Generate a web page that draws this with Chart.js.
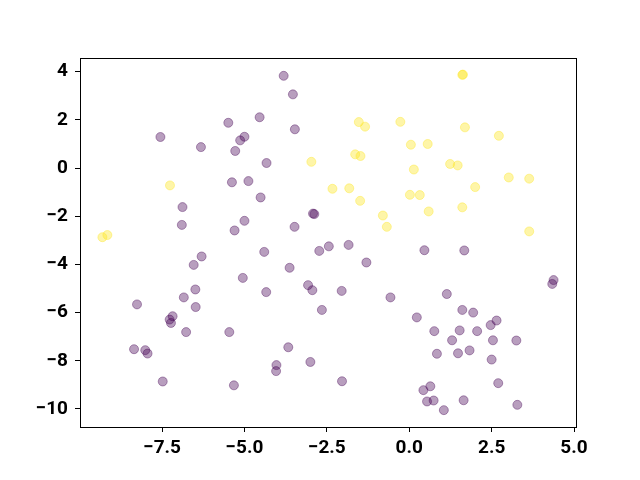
<!DOCTYPE html>
<html>
<head>
<meta charset="utf-8">
<script src="https://cdn.jsdelivr.net/npm/chart.js@4.4.1/dist/chart.umd.min.js"></script>
<style>
  body { margin: 0; background: #fff; }
  canvas { display: block; }
</style>
</head>
<body>
<canvas id="scatter_chart" width="640" height="480"></canvas>
<script>
// class 0 (purple) points
const purple_x = [-5.49, -7.55, -5.00, -5.13, -6.32, -5.28, -5.38, -4.88, -6.88, -6.90, -5.00, -5.30,
    -3.81, -3.53, -4.54, -3.47, -4.33, -4.51, -2.92, -2.88, -3.48,
    -6.30, -6.54, -5.05, -6.49, -6.84, -8.26, -6.48, -7.18, -7.27, -7.23, -6.77, -5.46,
    -8.35, -8.01, -7.94, -7.48, -5.32,
    -4.40, -2.73, -2.44, -1.84, -1.30, -3.63, -4.34, -3.07, -2.94, -2.05, -0.57, -2.65,
    -3.67, -4.03, -4.04, -3.00, -2.04,
    0.46, 1.67, 4.38, 4.34, 1.14, 1.61, 1.94, 0.23, 2.47, 2.65, 0.76, 1.53, 2.06,
    1.30, 2.54, 3.25, 0.84, 1.48, 1.83, 2.50, 2.70, 0.64, 0.43, 0.54, 0.74, 1.65, 3.28, 1.05];
const purple_y = [1.88, 1.29, 1.30, 1.15, 0.87, 0.71, -0.59, -0.54, -1.62, -2.36, -2.19, -2.59,
    3.83, 3.06, 2.11, 1.61, 0.21, -1.22, -1.89, -1.91, -2.44,
    -3.67, -4.02, -4.56, -5.04, -5.37, -5.66, -5.77, -6.15, -6.29, -6.43, -6.81, -6.81,
    -7.52, -7.56, -7.70, -8.86, -9.02,
    -3.48, -3.44, -3.25, -3.19, -3.92, -4.14, -5.15, -4.86, -5.07, -5.10, -5.37, -5.89,
    -7.44, -8.18, -8.43, -8.05, -8.85,
    -3.41, -3.42, -4.65, -4.81, -5.23, -5.89, -6.00, -6.20, -6.52, -6.33, -6.77, -6.74, -6.77,
    -7.15, -7.15, -7.16, -7.71, -7.69, -7.57, -7.95, -8.93, -9.06, -9.22, -9.69, -9.65, -9.64, -9.83, -10.05];

// class 1 (yellow) points
const yellow_x = [-7.26, -9.31, -9.16, -1.53, -1.34, -0.27, 0.05, 0.14, -2.97, -1.64, -1.48,
    -2.33, -1.82, -1.49, 0.02, -0.80, -0.68, 1.61, 1.63, 1.69, 2.72, 0.56, 1.24, 1.47,
    3.02, 3.64, 2.00, 0.32, 0.59, 1.61, 3.64];
const yellow_y = [-0.72, -2.87, -2.78, 1.91, 1.72, 1.92, 0.97, -0.06, 0.26, 0.57, 0.50,
    -0.86, -0.84, -1.36, -1.11, -1.97, -2.44, 3.87, 3.88, 1.69, 1.34, 1.00, 0.17, 0.11,
    -0.39, -0.44, -0.79, -1.12, -1.80, -1.63, -2.63];

// ticks
const x_ticks = [-7.5, -5.0, -2.5, 0.0, 2.5, 5.0];
const x_tick_labels = ['\u22127.5', '\u22125.0', '\u22122.5', '0.0', '2.5', '5.0'];
const y_ticks = [-10, -8, -6, -4, -2, 0, 2, 4];
const y_tick_labels = ['\u221210', '\u22128', '\u22126', '\u22124', '\u22122', '0', '2', '4'];

function to_points(xs, ys) {
    return xs.map(function (x, i) { return { x: x, y: ys[i] }; });
}

// draws the top and right edges of the box
const frame_plugin = {
    id: 'frame_plugin',
    afterDraw: function (chart) {
        const a = chart.chartArea;
        const c = chart.ctx;
        c.save();
        c.strokeStyle = '#000';
        c.lineWidth = 1;
        c.strokeRect(Math.round(a.left) + 0.5, Math.round(a.top) + 0.5,
            Math.round(a.right - a.left), Math.round(a.bottom - a.top));
        c.restore();
    }
};

const tick_font = { family: 'Roboto', size: 19, weight: 'bold' };

let ctx = document.getElementById('scatter_chart').getContext('2d');
const myScatter = new Chart(ctx, {
    type: 'scatter',
    data: {
        datasets: [{
            data: to_points(purple_x, purple_y),
            backgroundColor: 'rgba(68, 1, 84, 0.38)',
            borderColor: 'rgba(68, 1, 84, 0.38)',
            borderWidth: 1,
            pointRadius: 4.5
        }, {
            data: to_points(yellow_x, yellow_y),
            backgroundColor: 'rgba(253, 231, 37, 0.4)',
            borderColor: 'rgba(253, 231, 37, 0.4)',
            borderWidth: 1,
            pointRadius: 4.5
        }]
    },
    options: {
        responsive: false,
        animation: false,
        layout: { padding: { top: 58, right: 64, left: 0, bottom: 0 } },
        plugins: {
            legend: { display: false },
            tooltip: { enabled: false }
        },
        scales: {
            x: {
                type: 'linear',
                min: -9.99,
                max: 5.06,
                afterBuildTicks: function (scale) {
                    scale.ticks = x_ticks.map(function (v) { return { value: v }; });
                },
                afterFit: function (scale) { scale.height = 53; },
                grid: { drawOnChartArea: false, drawTicks: true, tickLength: 5, color: '#000' },
                border: { display: true, color: '#000', width: 1 },
                ticks: {
                    color: '#000',
                    font: tick_font,
                    padding: 5,
                    maxRotation: 0,
                    autoSkip: false,
                    callback: function (value, index) { return x_tick_labels[index]; }
                }
            },
            y: {
                type: 'linear',
                min: -10.75,
                max: 4.57,
                afterBuildTicks: function (scale) {
                    scale.ticks = y_ticks.map(function (v) { return { value: v }; });
                },
                afterFit: function (scale) { scale.width = 80; },
                grid: { drawOnChartArea: false, drawTicks: true, tickLength: 5, color: '#000' },
                border: { display: true, color: '#000', width: 1 },
                ticks: {
                    color: '#000',
                    font: tick_font,
                    padding: 7,
                    autoSkip: false,
                    callback: function (value, index) { return y_tick_labels[index]; }
                }
            }
        }
    },
    plugins: [frame_plugin]
});
</script>
</body>
</html>
